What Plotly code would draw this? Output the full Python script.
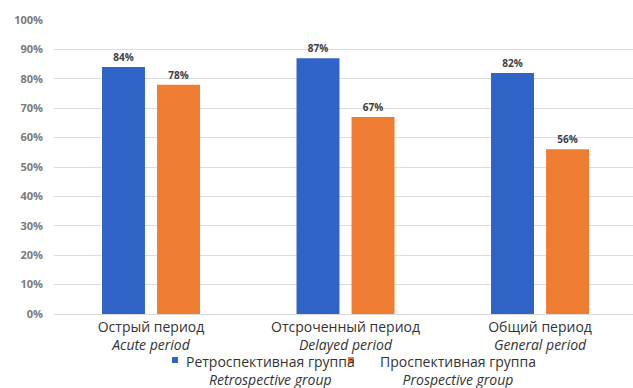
import plotly.graph_objects as go

# Chart data
categories_ru = ["Острый период", "Отсроченный период", "Общий период"]
categories_en = ["Acute period", "Delayed period", "General period"]
retro_values = [0.84, 0.87, 0.82]
prosp_values = [0.78, 0.67, 0.56]
series_ru = ["Ретроспективная группа", "Проспективная группа"]
series_en = ["Retrospective group", "Prospective group"]
y_ticks = [i / 10 for i in range(11)]

BLUE = "#2F63C5"
ORANGE = "#EE7D31"
FONT = "Open Sans, Noto Sans, sans-serif"

W, H = 633, 388
L, R, T, B = 54, 0, 20, 74
PW, PH = W - L - R, H - T - B


def px_x(px):
    return (px - L) / PW


def px_y(py):
    return (H - B - py) / PH


tick_text = [f"{ru}<br><i>{en}</i>" for ru, en in zip(categories_ru, categories_en)]

fig = go.Figure()
for vals, color, name in [(retro_values, BLUE, series_en[0]), (prosp_values, ORANGE, series_en[1])]:
    fig.add_trace(go.Bar(
        x=categories_ru, y=vals, name=name, marker=dict(color=color, line=dict(width=0)),
        text=[f"{v:.0%}" for v in vals], textposition="outside", cliponaxis=False,
        textfont=dict(family=FONT, size=10, color="#404040"),
        texttemplate="<b>%{text}</b>",
    ))

fig.update_layout(
    width=W, height=H,
    margin=dict(l=L, r=R, t=T, b=B),
    paper_bgcolor="white", plot_bgcolor="white",
    barmode="group", bargap=0.434, bargroupgap=0.22,
    showlegend=False,
    font=dict(family=FONT),
)
fig.update_xaxes(
    tickvals=categories_ru, ticktext=tick_text,
    range=[-0.4987, 2.478],
    tickfont=dict(family=FONT, size=14, color="#333333"),
    showline=True, linecolor="#D9D9D9", linewidth=1, ticks="",
)
fig.update_yaxes(
    range=[0, 1.0], tickvals=y_ticks, ticktext=[f"<b>{t:.0%}</b>" for t in y_ticks],
    tickfont=dict(family=FONT, size=11, color="#7A7A7A"),
    showgrid=True, gridcolor="#DCDCDC", gridwidth=1, zeroline=False,
    ticks="", ticklabelstandoff=10,
)

# Legend built from labels and small colour squares below the axis
legend_items = [
    (series_ru[0], series_en[0], BLUE, 270, 175),
    (series_ru[1], series_en[1], ORANGE, 458, 351),
]
for ru, en, color, cx, mx in legend_items:
    fig.add_annotation(
        x=px_x(cx), y=px_y(350), xref="paper", yref="paper", showarrow=False,
        text=f"{ru}<br><i>{en}</i>", align="center", xanchor="center", yanchor="top",
        font=dict(family=FONT, size=14, color="#333333"),
    )
    fig.add_shape(
        type="rect", xref="paper", yref="paper",
        x0=px_x(mx - 3), x1=px_x(mx + 3), y0=px_y(357), y1=px_y(363),
        fillcolor=color, line=dict(width=0),
    )

fig.write_html("out.html")
